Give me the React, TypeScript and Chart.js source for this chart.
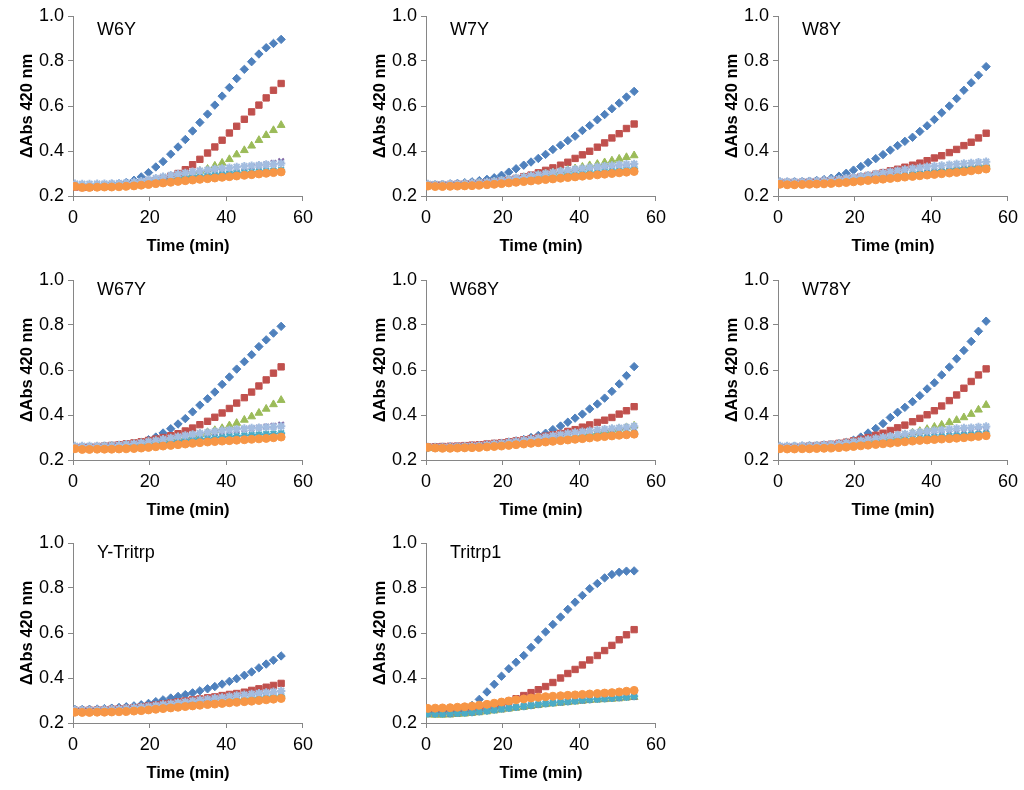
import React, { useEffect, useRef } from "react";
import { Chart, registerables } from "chart.js";

Chart.register(...registerables);

// ---------- data ----------
const TIMES = [0.5, 2.4, 4.3, 6.3, 8.2, 10.1, 12.0, 13.9, 15.9, 17.8, 19.7, 21.6, 23.5, 25.5, 27.4, 29.3, 31.2, 33.1, 35.1, 37.0, 38.9, 40.8, 42.7, 44.7, 46.6, 48.5, 50.4, 52.3, 54.3];

const PANEL_NAMES = ["W6Y", "W7Y", "W8Y", "W67Y", "W68Y", "W78Y", "Y-Tritrp", "Tritrp1"];

const X_TICKS = [0, 20, 40, 60];
const Y_TICKS = [0.2, 0.4, 0.6, 0.8, 1.0];

// series order in every panel: diamond(blue), square(red), triangle(green), x(purple), star(cyan), star(light blue), circle(orange)
const W6Y_DATA: number[][] = [
  [0.245, 0.243, 0.245, 0.247, 0.25, 0.252, 0.255, 0.26, 0.27, 0.285, 0.304, 0.329, 0.353, 0.386, 0.418, 0.451, 0.489, 0.527, 0.564, 0.604, 0.644, 0.682, 0.722, 0.763, 0.797, 0.831, 0.859, 0.878, 0.896],
  [0.24, 0.238, 0.239, 0.241, 0.243, 0.245, 0.247, 0.25, 0.253, 0.257, 0.262, 0.268, 0.277, 0.288, 0.3, 0.317, 0.339, 0.363, 0.391, 0.418, 0.448, 0.48, 0.51, 0.541, 0.574, 0.604, 0.636, 0.67, 0.7],
  [0.242, 0.241, 0.242, 0.243, 0.244, 0.245, 0.248, 0.25, 0.253, 0.257, 0.261, 0.266, 0.271, 0.277, 0.283, 0.29, 0.3, 0.311, 0.32, 0.334, 0.347, 0.363, 0.384, 0.403, 0.423, 0.448, 0.47, 0.492, 0.515],
  [0.245, 0.244, 0.245, 0.246, 0.247, 0.249, 0.251, 0.253, 0.256, 0.26, 0.265, 0.27, 0.275, 0.28, 0.285, 0.29, 0.294, 0.298, 0.302, 0.306, 0.31, 0.315, 0.32, 0.325, 0.33, 0.335, 0.34, 0.347, 0.355],
  [0.248, 0.246, 0.246, 0.247, 0.248, 0.249, 0.25, 0.252, 0.254, 0.257, 0.26, 0.264, 0.268, 0.272, 0.276, 0.28, 0.284, 0.288, 0.291, 0.294, 0.297, 0.3, 0.303, 0.305, 0.307, 0.309, 0.311, 0.313, 0.315],
  [0.255, 0.254, 0.254, 0.255, 0.255, 0.256, 0.257, 0.259, 0.262, 0.266, 0.272, 0.279, 0.286, 0.292, 0.298, 0.303, 0.308, 0.312, 0.316, 0.32, 0.323, 0.326, 0.329, 0.332, 0.335, 0.337, 0.34, 0.342, 0.345],
  [0.243, 0.238, 0.238, 0.239, 0.24, 0.24, 0.241, 0.243, 0.245, 0.248, 0.251, 0.255, 0.258, 0.261, 0.265, 0.268, 0.271, 0.274, 0.277, 0.28, 0.283, 0.286, 0.289, 0.292, 0.295, 0.298, 0.301, 0.304, 0.307],
];

const W7Y_DATA: number[][] = [
  [0.25, 0.25, 0.252, 0.254, 0.256, 0.259, 0.263, 0.268, 0.274, 0.281, 0.292, 0.306, 0.321, 0.337, 0.351, 0.367, 0.385, 0.407, 0.426, 0.446, 0.466, 0.491, 0.513, 0.539, 0.562, 0.588, 0.613, 0.64, 0.665],
  [0.25, 0.25, 0.25, 0.251, 0.252, 0.253, 0.255, 0.257, 0.26, 0.263, 0.267, 0.272, 0.278, 0.286, 0.293, 0.303, 0.314, 0.325, 0.337, 0.35, 0.367, 0.383, 0.399, 0.417, 0.436, 0.458, 0.477, 0.5, 0.52],
  [0.249, 0.248, 0.248, 0.249, 0.25, 0.252, 0.254, 0.257, 0.26, 0.264, 0.268, 0.273, 0.278, 0.283, 0.288, 0.293, 0.298, 0.304, 0.31, 0.316, 0.322, 0.329, 0.336, 0.342, 0.349, 0.357, 0.365, 0.372, 0.38],
  [0.248, 0.247, 0.247, 0.248, 0.249, 0.25, 0.252, 0.254, 0.257, 0.26, 0.263, 0.267, 0.271, 0.275, 0.279, 0.283, 0.287, 0.291, 0.295, 0.299, 0.303, 0.307, 0.311, 0.315, 0.318, 0.321, 0.324, 0.327, 0.33],
  [0.247, 0.246, 0.246, 0.247, 0.248, 0.249, 0.25, 0.252, 0.254, 0.257, 0.26, 0.263, 0.266, 0.27, 0.274, 0.278, 0.282, 0.286, 0.29, 0.294, 0.297, 0.3, 0.303, 0.306, 0.309, 0.312, 0.315, 0.318, 0.322],
  [0.254, 0.253, 0.253, 0.254, 0.255, 0.256, 0.258, 0.26, 0.263, 0.266, 0.27, 0.275, 0.28, 0.285, 0.29, 0.295, 0.3, 0.305, 0.31, 0.315, 0.319, 0.323, 0.327, 0.33, 0.333, 0.336, 0.339, 0.341, 0.343],
  [0.244, 0.242, 0.242, 0.243, 0.244, 0.245, 0.246, 0.248, 0.25, 0.252, 0.255, 0.258, 0.261, 0.264, 0.267, 0.27, 0.273, 0.276, 0.279, 0.282, 0.285, 0.288, 0.291, 0.294, 0.297, 0.3, 0.303, 0.306, 0.309],
];

const W8Y_DATA: number[][] = [
  [0.262, 0.262, 0.263, 0.264, 0.266, 0.269, 0.273, 0.279, 0.288, 0.301, 0.315, 0.331, 0.349, 0.366, 0.384, 0.404, 0.424, 0.443, 0.461, 0.487, 0.512, 0.54, 0.57, 0.6, 0.633, 0.67, 0.703, 0.737, 0.775],
  [0.26, 0.26, 0.26, 0.261, 0.262, 0.264, 0.266, 0.268, 0.271, 0.275, 0.279, 0.285, 0.291, 0.297, 0.304, 0.312, 0.319, 0.328, 0.337, 0.346, 0.357, 0.369, 0.379, 0.393, 0.407, 0.424, 0.439, 0.458, 0.479],
  [0.255, 0.254, 0.254, 0.255, 0.256, 0.257, 0.259, 0.261, 0.264, 0.267, 0.27, 0.274, 0.278, 0.282, 0.286, 0.29, 0.294, 0.298, 0.302, 0.306, 0.31, 0.314, 0.318, 0.322, 0.326, 0.33, 0.334, 0.338, 0.342],
  [0.254, 0.253, 0.253, 0.254, 0.255, 0.256, 0.258, 0.26, 0.263, 0.266, 0.269, 0.272, 0.276, 0.28, 0.284, 0.288, 0.291, 0.294, 0.297, 0.3, 0.303, 0.306, 0.309, 0.312, 0.315, 0.318, 0.321, 0.325, 0.328],
  [0.253, 0.252, 0.252, 0.253, 0.254, 0.255, 0.257, 0.259, 0.262, 0.265, 0.268, 0.271, 0.275, 0.279, 0.283, 0.286, 0.289, 0.292, 0.295, 0.298, 0.301, 0.304, 0.307, 0.31, 0.313, 0.316, 0.319, 0.322, 0.325],
  [0.265, 0.264, 0.264, 0.265, 0.266, 0.267, 0.269, 0.272, 0.275, 0.279, 0.283, 0.288, 0.293, 0.298, 0.303, 0.308, 0.313, 0.318, 0.322, 0.326, 0.33, 0.333, 0.336, 0.339, 0.342, 0.345, 0.347, 0.35, 0.352],
  [0.252, 0.25, 0.25, 0.251, 0.252, 0.253, 0.254, 0.256, 0.258, 0.26, 0.263, 0.266, 0.269, 0.272, 0.275, 0.278, 0.281, 0.284, 0.287, 0.29, 0.293, 0.296, 0.299, 0.302, 0.305, 0.308, 0.312, 0.316, 0.32],
];

const W67Y_DATA: number[][] = [
  [0.258, 0.259, 0.259, 0.26, 0.261, 0.262, 0.264, 0.266, 0.27, 0.278, 0.29, 0.302, 0.32, 0.339, 0.36, 0.384, 0.414, 0.444, 0.472, 0.502, 0.536, 0.569, 0.604, 0.637, 0.668, 0.704, 0.734, 0.764, 0.794],
  [0.255, 0.256, 0.258, 0.26, 0.262, 0.265, 0.268, 0.272, 0.276, 0.281, 0.287, 0.293, 0.3, 0.308, 0.317, 0.329, 0.342, 0.357, 0.372, 0.39, 0.409, 0.429, 0.453, 0.477, 0.502, 0.529, 0.556, 0.586, 0.614],
  [0.256, 0.256, 0.257, 0.258, 0.26, 0.262, 0.264, 0.267, 0.27, 0.274, 0.278, 0.282, 0.287, 0.292, 0.297, 0.303, 0.309, 0.315, 0.323, 0.332, 0.341, 0.353, 0.364, 0.378, 0.393, 0.409, 0.427, 0.447, 0.466],
  [0.255, 0.255, 0.256, 0.257, 0.258, 0.26, 0.262, 0.265, 0.268, 0.272, 0.277, 0.282, 0.287, 0.292, 0.297, 0.302, 0.307, 0.312, 0.317, 0.321, 0.325, 0.329, 0.333, 0.337, 0.34, 0.344, 0.348, 0.352, 0.357],
  [0.252, 0.251, 0.251, 0.252, 0.253, 0.254, 0.256, 0.258, 0.261, 0.264, 0.267, 0.271, 0.275, 0.279, 0.283, 0.287, 0.29, 0.293, 0.296, 0.299, 0.302, 0.305, 0.307, 0.309, 0.311, 0.313, 0.315, 0.317, 0.319],
  [0.262, 0.262, 0.262, 0.263, 0.264, 0.265, 0.267, 0.27, 0.273, 0.277, 0.282, 0.287, 0.292, 0.298, 0.304, 0.309, 0.314, 0.319, 0.323, 0.327, 0.331, 0.334, 0.337, 0.34, 0.342, 0.344, 0.346, 0.348, 0.35],
  [0.25, 0.247, 0.247, 0.248, 0.248, 0.248, 0.249, 0.25, 0.251, 0.253, 0.256, 0.259, 0.262, 0.265, 0.268, 0.271, 0.274, 0.277, 0.28, 0.282, 0.284, 0.286, 0.288, 0.29, 0.292, 0.294, 0.296, 0.299, 0.302],
];

const W68Y_DATA: number[][] = [
  [0.255, 0.256, 0.257, 0.258, 0.259, 0.261, 0.263, 0.265, 0.268, 0.271, 0.275, 0.28, 0.285, 0.291, 0.3, 0.309, 0.319, 0.335, 0.351, 0.368, 0.386, 0.404, 0.427, 0.449, 0.475, 0.505, 0.538, 0.575, 0.615],
  [0.258, 0.259, 0.26, 0.261, 0.262, 0.264, 0.266, 0.268, 0.271, 0.274, 0.277, 0.281, 0.285, 0.29, 0.295, 0.3, 0.306, 0.312, 0.318, 0.327, 0.335, 0.346, 0.356, 0.367, 0.377, 0.389, 0.404, 0.419, 0.437],
  [0.252, 0.252, 0.252, 0.253, 0.254, 0.255, 0.257, 0.259, 0.262, 0.265, 0.268, 0.272, 0.276, 0.28, 0.284, 0.288, 0.292, 0.296, 0.3, 0.305, 0.31, 0.315, 0.32, 0.325, 0.33, 0.335, 0.34, 0.345, 0.352],
  [0.254, 0.253, 0.253, 0.254, 0.255, 0.256, 0.258, 0.26, 0.263, 0.266, 0.269, 0.272, 0.276, 0.28, 0.284, 0.288, 0.292, 0.296, 0.3, 0.304, 0.308, 0.311, 0.314, 0.318, 0.322, 0.325, 0.328, 0.331, 0.335],
  [0.254, 0.253, 0.253, 0.254, 0.255, 0.256, 0.258, 0.26, 0.262, 0.264, 0.267, 0.27, 0.273, 0.277, 0.281, 0.285, 0.288, 0.291, 0.294, 0.297, 0.3, 0.303, 0.306, 0.308, 0.31, 0.312, 0.314, 0.317, 0.32],
  [0.258, 0.258, 0.258, 0.259, 0.26, 0.261, 0.263, 0.265, 0.268, 0.271, 0.275, 0.279, 0.283, 0.288, 0.293, 0.298, 0.303, 0.308, 0.313, 0.318, 0.322, 0.326, 0.33, 0.334, 0.337, 0.34, 0.343, 0.346, 0.35],
  [0.256, 0.253, 0.252, 0.252, 0.253, 0.254, 0.255, 0.256, 0.258, 0.26, 0.262, 0.265, 0.268, 0.271, 0.274, 0.277, 0.28, 0.283, 0.286, 0.289, 0.292, 0.295, 0.298, 0.301, 0.304, 0.307, 0.31, 0.312, 0.315],
];

const W78Y_DATA: number[][] = [
  [0.26, 0.26, 0.261, 0.262, 0.263, 0.264, 0.266, 0.268, 0.272, 0.278, 0.288, 0.302, 0.32, 0.34, 0.362, 0.389, 0.412, 0.434, 0.459, 0.486, 0.516, 0.543, 0.578, 0.613, 0.65, 0.687, 0.727, 0.772, 0.817],
  [0.256, 0.257, 0.258, 0.26, 0.262, 0.264, 0.267, 0.27, 0.274, 0.279, 0.285, 0.292, 0.3, 0.31, 0.319, 0.331, 0.343, 0.355, 0.37, 0.385, 0.401, 0.419, 0.44, 0.464, 0.489, 0.519, 0.549, 0.578, 0.605],
  [0.256, 0.256, 0.257, 0.258, 0.26, 0.262, 0.264, 0.267, 0.27, 0.274, 0.278, 0.282, 0.287, 0.292, 0.297, 0.302, 0.307, 0.313, 0.321, 0.328, 0.337, 0.347, 0.356, 0.367, 0.377, 0.389, 0.404, 0.423, 0.444],
  [0.256, 0.255, 0.255, 0.256, 0.257, 0.258, 0.26, 0.262, 0.265, 0.268, 0.271, 0.275, 0.279, 0.283, 0.287, 0.291, 0.295, 0.299, 0.303, 0.307, 0.31, 0.313, 0.316, 0.319, 0.322, 0.325, 0.328, 0.331, 0.334],
  [0.254, 0.253, 0.253, 0.254, 0.255, 0.256, 0.258, 0.26, 0.262, 0.265, 0.268, 0.271, 0.274, 0.278, 0.282, 0.286, 0.289, 0.292, 0.295, 0.298, 0.301, 0.303, 0.305, 0.307, 0.309, 0.311, 0.313, 0.315, 0.318],
  [0.263, 0.263, 0.263, 0.264, 0.265, 0.266, 0.268, 0.27, 0.273, 0.277, 0.281, 0.286, 0.291, 0.296, 0.301, 0.306, 0.311, 0.316, 0.32, 0.324, 0.328, 0.331, 0.334, 0.337, 0.34, 0.342, 0.344, 0.347, 0.349],
  [0.25, 0.249, 0.249, 0.25, 0.25, 0.251, 0.252, 0.253, 0.255, 0.257, 0.26, 0.263, 0.266, 0.269, 0.272, 0.275, 0.278, 0.281, 0.284, 0.287, 0.289, 0.291, 0.293, 0.295, 0.297, 0.299, 0.302, 0.305, 0.308],
];

const YTRITRP_DATA: number[][] = [
  [0.26, 0.26, 0.261, 0.262, 0.264, 0.266, 0.269, 0.272, 0.276, 0.281, 0.287, 0.295, 0.303, 0.311, 0.318, 0.326, 0.334, 0.343, 0.352, 0.362, 0.373, 0.385, 0.397, 0.412, 0.427, 0.445, 0.462, 0.479, 0.498],
  [0.256, 0.256, 0.257, 0.258, 0.259, 0.261, 0.263, 0.265, 0.268, 0.272, 0.276, 0.28, 0.285, 0.289, 0.294, 0.298, 0.303, 0.307, 0.312, 0.316, 0.322, 0.327, 0.331, 0.337, 0.345, 0.352, 0.359, 0.367, 0.376],
  [0.25, 0.249, 0.249, 0.25, 0.251, 0.252, 0.254, 0.256, 0.259, 0.262, 0.265, 0.268, 0.272, 0.276, 0.279, 0.283, 0.287, 0.29, 0.294, 0.297, 0.301, 0.304, 0.307, 0.31, 0.313, 0.316, 0.319, 0.322, 0.325],
  [0.252, 0.252, 0.252, 0.253, 0.254, 0.255, 0.257, 0.259, 0.262, 0.265, 0.268, 0.271, 0.275, 0.279, 0.282, 0.286, 0.29, 0.293, 0.296, 0.299, 0.303, 0.306, 0.309, 0.312, 0.315, 0.318, 0.321, 0.325, 0.33],
  [0.25, 0.249, 0.249, 0.25, 0.251, 0.252, 0.254, 0.256, 0.259, 0.262, 0.265, 0.268, 0.271, 0.274, 0.277, 0.28, 0.283, 0.286, 0.289, 0.292, 0.295, 0.298, 0.301, 0.304, 0.307, 0.31, 0.313, 0.315, 0.318],
  [0.258, 0.258, 0.258, 0.259, 0.26, 0.261, 0.263, 0.265, 0.268, 0.271, 0.274, 0.278, 0.282, 0.286, 0.29, 0.294, 0.298, 0.302, 0.306, 0.31, 0.314, 0.318, 0.322, 0.326, 0.329, 0.332, 0.336, 0.339, 0.342],
  [0.248, 0.247, 0.247, 0.248, 0.248, 0.249, 0.25, 0.251, 0.253, 0.255, 0.258, 0.261, 0.264, 0.267, 0.27, 0.273, 0.276, 0.279, 0.282, 0.284, 0.287, 0.29, 0.292, 0.295, 0.297, 0.3, 0.303, 0.306, 0.309],
];

// Tritrp1 has no light-blue star series
const TRITRP1_DATA: number[][] = [
  [0.25, 0.25, 0.251, 0.253, 0.256, 0.262, 0.278, 0.305, 0.338, 0.372, 0.408, 0.441, 0.47, 0.5, 0.536, 0.57, 0.605, 0.638, 0.671, 0.705, 0.737, 0.767, 0.797, 0.82, 0.845, 0.86, 0.87, 0.875, 0.876],
  [0.247, 0.246, 0.246, 0.247, 0.249, 0.251, 0.254, 0.259, 0.265, 0.273, 0.284, 0.296, 0.308, 0.322, 0.335, 0.348, 0.362, 0.38, 0.4, 0.42, 0.438, 0.458, 0.48, 0.5, 0.522, 0.545, 0.57, 0.592, 0.615],
  [0.237, 0.236, 0.236, 0.237, 0.239, 0.241, 0.244, 0.247, 0.251, 0.255, 0.259, 0.263, 0.267, 0.271, 0.275, 0.279, 0.283, 0.286, 0.289, 0.292, 0.295, 0.298, 0.301, 0.303, 0.305, 0.307, 0.309, 0.312, 0.315],
  [0.24, 0.239, 0.239, 0.24, 0.242, 0.244, 0.246, 0.249, 0.253, 0.257, 0.261, 0.265, 0.269, 0.273, 0.277, 0.281, 0.285, 0.288, 0.291, 0.294, 0.297, 0.3, 0.303, 0.305, 0.307, 0.309, 0.311, 0.314, 0.316],
  [0.242, 0.241, 0.241, 0.242, 0.244, 0.246, 0.248, 0.251, 0.255, 0.259, 0.263, 0.267, 0.271, 0.275, 0.279, 0.283, 0.287, 0.29, 0.293, 0.296, 0.299, 0.302, 0.305, 0.307, 0.309, 0.311, 0.313, 0.316, 0.319],
  [],
  [0.265, 0.266, 0.267, 0.268, 0.27, 0.272, 0.275, 0.279, 0.283, 0.288, 0.293, 0.298, 0.303, 0.307, 0.311, 0.314, 0.317, 0.319, 0.321, 0.323, 0.325, 0.327, 0.329, 0.331, 0.333, 0.335, 0.338, 0.341, 0.345],
];

const PANEL_DATA: number[][][] = [W6Y_DATA, W7Y_DATA, W8Y_DATA, W67Y_DATA, W68Y_DATA, W78Y_DATA, YTRITRP_DATA, TRITRP1_DATA];

// ---------- styles / layout ----------
const FONT = '"Liberation Sans", Arial, Helvetica, sans-serif';
const AXIS_COLOR = "#868686";

const SERIES_STYLE = [
  { color: "#4F81BD", shape: "rectRot", radius: 4.2, bw: 1 },
  { color: "#C0504D", shape: "rect", radius: 4.5, bw: 1 },
  { color: "#9BBB59", shape: "triangle", radius: 4.5, bw: 1 },
  { color: "#8064A2", shape: "crossRot", radius: 3.8, bw: 2 },
  { color: "#4BACC6", shape: "star", radius: 4, bw: 2 },
  { color: "#A3BDE0", shape: "star", radius: 4.2, bw: 2 },
  { color: "#F79646", shape: "circle", radius: 4, bw: 1 },
];

const COL_LEFT = [73, 426, 778];
const ROW_TOP = [16, 280, 543];
const PLOT_W = 232;
const PLOT_H = 180;
const PAD_LEFT = 18;
const Y_AXIS_W = 55;
const PAD_TOP = 16;
const PAD_RIGHT = 14;
const X_AXIS_H = 60;
const CANVAS_W = PAD_LEFT + Y_AXIS_W + PLOT_W + PAD_RIGHT;
const CANVAS_H = PAD_TOP + PLOT_H + X_AXIS_H;

function Panel({ index }: { index: number }) {
  const ref = useRef<HTMLCanvasElement | null>(null);
  const col = index % 3;
  const row = Math.floor(index / 3);
  const name = PANEL_NAMES[index];
  const labelDy = row === 0 ? 14 : 10;

  useEffect(() => {
    if (!ref.current) return;
    const data = PANEL_DATA[index];
    const datasets = data.map((vals, si) => {
      const st = SERIES_STYLE[si];
      return {
        label: "s" + si,
        data: vals.map((v, k) => ({ x: TIMES[k], y: v })),
        pointStyle: st.shape as any,
        pointRadius: st.radius,
        pointBackgroundColor: st.color,
        pointBorderColor: st.color,
        pointBorderWidth: st.bw,
        backgroundColor: st.color,
        borderColor: st.color,
        showLine: false,
        order: SERIES_STYLE.length - si,
      };
    });
    const labelPlugin = {
      id: "panelLabel" + index,
      afterDatasetsDraw(chart: any) {
        const { ctx, chartArea } = chart;
        ctx.save();
        ctx.font = `18px ${FONT}`;
        ctx.fillStyle = "#000";
        ctx.textBaseline = "middle";
        ctx.textAlign = "left";
        ctx.fillText(name, chartArea.left + 24, chartArea.top + labelDy);
        ctx.restore();
      },
    };
    const chart = new Chart(ref.current, {
      type: "scatter",
      data: { datasets },
      plugins: [labelPlugin],
      options: {
        animation: false,
        responsive: false,
        events: [],
        layout: { padding: { left: PAD_LEFT, top: PAD_TOP, right: PAD_RIGHT, bottom: 0 } },
        plugins: { legend: { display: false }, tooltip: { enabled: false } },
        scales: {
          x: {
            type: "linear",
            min: 0,
            max: 60,
            afterBuildTicks: (s: any) => {
              s.ticks = X_TICKS.map((v) => ({ value: v }));
            },
            ticks: {
              font: { family: FONT, size: 18 },
              color: "#000",
              padding: 6,
              maxRotation: 0,
              callback: (v: any) => String(v),
            },
            grid: { display: true, drawOnChartArea: false, drawTicks: true, tickLength: 5, color: AXIS_COLOR },
            border: { display: true, color: AXIS_COLOR, width: 1 },
            title: {
              display: true,
              text: "Time (min)",
              font: { family: FONT, size: 16.5, weight: "bold" },
              color: "#000",
              padding: 0,
            },
            afterFit: (s: any) => {
              s.height = X_AXIS_H;
            },
          },
          y: {
            type: "linear",
            min: 0.2,
            max: 1.0,
            afterBuildTicks: (s: any) => {
              s.ticks = Y_TICKS.map((v) => ({ value: v }));
            },
            ticks: {
              font: { family: FONT, size: 18 },
              color: "#000",
              padding: 4,
              callback: (v: any) => Number(v).toFixed(1),
            },
            grid: { display: true, drawOnChartArea: false, drawTicks: true, tickLength: 5, color: AXIS_COLOR },
            border: { display: true, color: AXIS_COLOR, width: 1 },
            title: {
              display: true,
              text: "ΔAbs 420 nm",
              font: { family: FONT, size: 16.5, weight: "bold" },
              color: "#000",
              padding: 0,
            },
            afterFit: (s: any) => {
              s.width = Y_AXIS_W;
            },
          },
        },
      } as any,
    });
    return () => chart.destroy();
  }, [index]);

  return (
    <canvas
      ref={ref}
      width={CANVAS_W}
      height={CANVAS_H}
      style={{
        position: "absolute",
        left: COL_LEFT[col] - PAD_LEFT - Y_AXIS_W,
        top: ROW_TOP[row] - PAD_TOP,
        width: CANVAS_W,
        height: CANVAS_H,
      }}
    />
  );
}

export default function App() {
  return (
    <div
      style={{
        position: "absolute",
        left: 0,
        top: 0,
        width: 1024,
        height: 790,
        background: "#fff",
        overflow: "hidden",
      }}
    >
      {PANEL_NAMES.map((_, i) => (
        <Panel key={i} index={i} />
      ))}
    </div>
  );
}
